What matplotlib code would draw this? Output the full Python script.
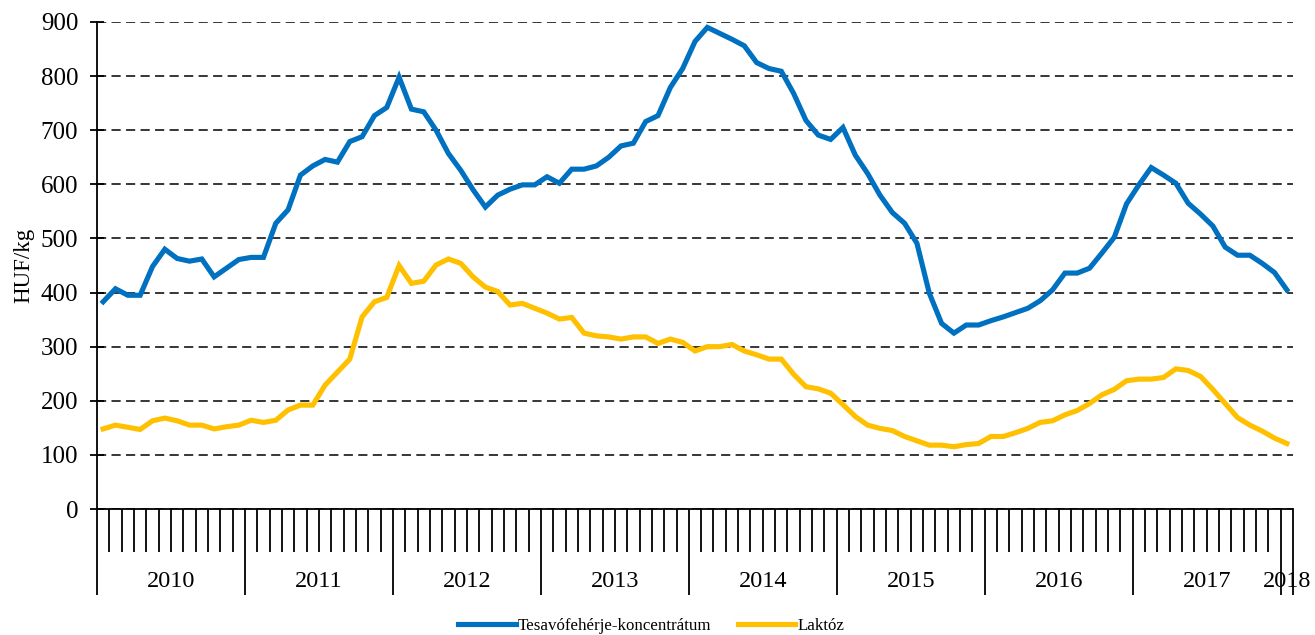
import matplotlib
matplotlib.use("Agg")
import matplotlib.pyplot as plt
from matplotlib.transforms import blended_transform_factory

plt.rcParams["font.family"] = ["Liberation Serif", "DejaVu Serif"]

# monthly prices, 2010-01 .. 2018-01 (HUF/kg)
years = ["2010", "2011", "2012", "2013", "2014", "2015", "2016", "2017", "2018"]
months_per_year = [12, 12, 12, 12, 12, 12, 12, 12, 1]

wpc = [383, 407, 395, 395, 448, 480, 463, 458, 462, 429, 445, 461,
       465, 465, 528, 553, 617, 634, 646, 641, 679, 688, 727, 742,
       798, 739, 734, 700, 657, 626, 590, 558, 580, 591, 599, 599,
       614, 602, 628, 628, 634, 650, 671, 676, 716, 727, 779, 814,
       864, 890, 879, 868, 856, 825, 814, 809, 768, 718, 691, 683,
       705, 654, 620, 580, 548, 528, 491, 399, 343, 325, 340, 340,
       348, 355, 363, 371, 385, 405, 436, 436, 445, 473, 502, 564,
       599, 631, 617, 602, 565, 545, 523, 484, 469, 469, 454, 437,
       405]

lactose = [148, 155, 151, 147, 163, 168, 163, 155, 155, 148, 152, 155,
           164, 160, 164, 183, 192, 192, 229, 253, 277, 355, 383, 391,
           450, 417, 421, 451, 462, 454, 429, 410, 402, 377, 380, 371,
           362, 351, 354, 325, 320, 318, 314, 318, 318, 306, 314, 308,
           292, 300, 300, 304, 292, 285, 277, 277, 249, 226, 222, 214,
           193, 171, 155, 149, 145, 134, 126, 118, 118, 115, 119, 121,
           134, 134, 141, 149, 160, 163, 174, 182, 195, 211, 221, 237,
           240, 240, 243, 259, 256, 245, 221, 195, 169, 155, 144, 131,
           121]

BLUE, YELLOW = "#0070C0", "#FFC000"

fig = plt.figure(figsize=(13.15, 6.35), dpi=100)
ax = fig.add_axes([97 / 1315, 126 / 635, 1196 / 1315, 487 / 635])

x = list(range(len(wpc)))
l1, = ax.plot(x, wpc, color=BLUE, linewidth=3.7, solid_joinstyle="miter",
              label="Tesavófehérje-koncentrátum")
l2, = ax.plot(x, lactose, color=YELLOW, linewidth=3.7, solid_joinstyle="miter",
              label="Laktóz")

n = len(wpc)
ax.set_xlim(-0.5, n - 0.5)
ax.set_ylim(0, 900)
ax.set_yticks(range(0, 901, 100))
ax.yaxis.grid(True, color="black", linewidth=1.1, linestyle=(0, (6, 3.5)))
ax.set_axisbelow(True)

for s in ("top", "right"):
    ax.spines[s].set_visible(False)
for s in ("left", "bottom"):
    ax.spines[s].set_linewidth(1.3)

# month ticks (short) and year separators (long)
bounds = [i - 0.5 for i in range(n + 1)]
year_starts, acc = [], 0
for m in months_per_year:
    year_starts.append(acc)
    acc += m
year_bounds = [s - 0.5 for s in year_starts] + [n - 0.5]
ax.set_xticks(year_bounds)
ax.set_xticks(bounds, minor=True)
ax.set_xticklabels([])
ax.tick_params(axis="x", which="major", length=62, width=1.3, direction="out")
ax.tick_params(axis="x", which="minor", length=31, width=1.3, direction="out")
ax.tick_params(axis="y", direction="inout", length=10, width=1.3,
               labelsize=18, pad=8.5)

trans = blended_transform_factory(ax.transData, ax.transAxes)
for yr, s, m in zip(years, year_starts, months_per_year):
    ax.text(s + (m - 1) / 2, -0.148, yr, transform=trans, ha="center",
            va="center", fontsize=17.5)

ax.set_ylabel("HUF/kg", fontsize=16.5, labelpad=5)

fig.legend(handles=[l1, l2], loc="center", bbox_to_anchor=(651 / 1315, 1 - 626 / 635),
           ncol=2, frameon=False, fontsize=12.2, handlelength=3.4,
           handletextpad=0.1, columnspacing=1.6)

fig.savefig("out.png", dpi=100)
